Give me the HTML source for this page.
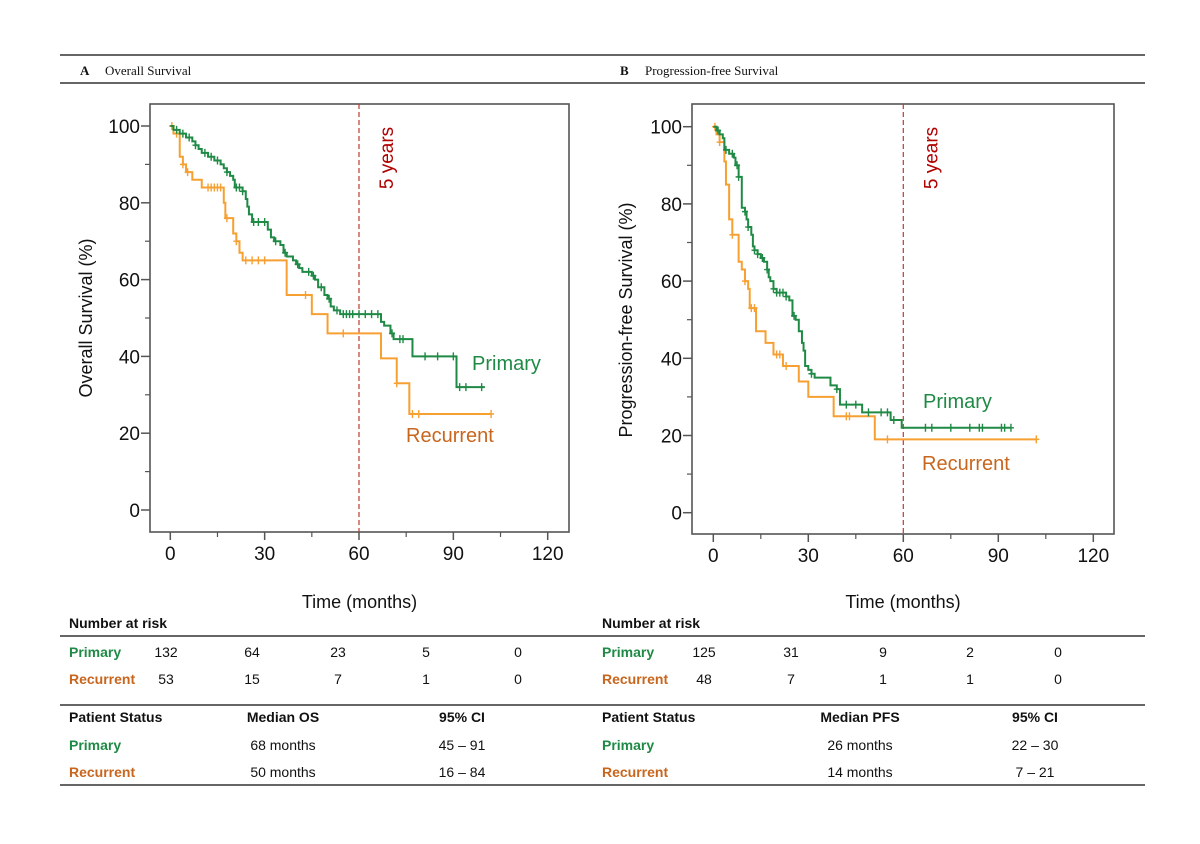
<!DOCTYPE html>
<html><head><meta charset="utf-8"><style>
html,body{margin:0;padding:0;background:#fff;}
svg{display:block;}
.tk{font-family:"Liberation Sans",Arial,sans-serif;font-size:19px;fill:#111;}
.ttl{font-family:"Liberation Sans",Arial,sans-serif;font-size:18px;fill:#111;}
.tb{font-family:"Liberation Sans",Arial,sans-serif;font-size:14px;fill:#111;}
.bold{font-weight:bold;}
.hd{font-family:"Liberation Serif","Times New Roman",serif;font-size:13px;fill:#111;}
</style></head><body>
<svg id="fig" width="1200" height="844" viewBox="0 0 1200 844" xmlns="http://www.w3.org/2000/svg">
<line x1="60" y1="55" x2="1145" y2="55" stroke="#666" stroke-width="2"/>
<line x1="60" y1="83" x2="1145" y2="83" stroke="#666" stroke-width="2"/>
<text x="80" y="75" class="hd bold">A</text>
<text x="105" y="75" class="hd">Overall Survival</text>
<text x="620" y="75" class="hd bold">B</text>
<text x="645" y="75" class="hd">Progression-free Survival</text>
<g id="chartA"></g>
<g id="chartB"></g>
<g id="tables"></g>
</svg>
<script>
// ---- data ----
const xTicks = [0, 30, 60, 90, 120];
const yTicks = [0, 20, 40, 60, 80, 100];
// Overall survival (time months, survival %)
const osPrimaryT = [0,1,3,5,7,8,9,10,12,14,16,17,18,19,20,20.5,23,24,24.5,25,26,31,32,33,35,36,37,39,40,41,42,45,46,47,49,50,51,52,54,67,68,70,71,77,91,100];
const osPrimaryS = [100,99,98,97,96,95,94,93,92,91,90,89,88,87,86,84,83,81,79,77,75,73,71,70,69,67,66,65,64,63,62,61,60,58,56,55,53,52,51,49,48,46,44.5,40,32,32];
const osPrimaryCens = [2,4,6,8,11,13,15,18,21,22,23,26.5,28,30,33.5,36.5,40.5,44,45.5,48,50.5,53,55,56,57,58,60,62,64,66,70.5,73,74,81,85,90,92,94,99];
const osRecT = [0,1,3,4,5,7,10,17,17.5,20,21,22,23,37,45,50,67,72,76,102];
const osRecS = [100,98,92,90,88,86,84,80,76,72,70,67,65,56,51,46,39.5,33,25,25];
const osRecCens = [0.5,2,4,5.5,12,13,14,15,16,18,21,24,26,28,30,43,55,72,77,79,102];
// Progression-free survival
const pfsPrimaryT = [0,1,2,3,3.5,5,6.5,7,8,9,10,10.5,11,12,12.5,13,14,15,16,17,17.5,18,19,20,23,24,25,26,27,28,28.5,29,30,31,32,37,39,40,47,56,59.5,94];
const pfsPrimaryS = [100,99,98,97,94,93,92,90,87,79,78,76,74,72,69,68,67,66,65,63,61,60,58,57,56,55,51,50,47,44,42,38,37,36,35,33,32,28,26,24,22,22];
const pfsPrimaryCens = [1.5,4,6,7.5,8,10,11,13,14,15.5,17,19,20,21,22,23,25.5,31,39,42,45,49,53,55,57,67,69,75,81,84,85,91,92,94];
const pfsRecT = [0,1,2,3.5,4,5,6,8,9,10,11,11.5,13.5,16.5,19,22,27,30,38,51,102];
const pfsRecS = [100,98,96,91,85,76,72,65,63,60,58,53,47,44,41,38,34,30,25,19,19];
const pfsRecCens = [0.5,2,6,10,12,13,20,21,23,42,43,55,102];
const riskA = {primary:[132,64,23,5,0], recurrent:[53,15,7,1,0]};
const riskB = {primary:[125,31,9,2,0], recurrent:[48,7,1,1,0]};

const NS = "http://www.w3.org/2000/svg";
const GREEN = "#1f8a45", ORANGE = "#f7a032", RECTXT = "#c8661e";
function mk(parent, tag, attrs, text){
  const e = document.createElementNS(NS, tag);
  for (const k in attrs) e.setAttribute(k, attrs[k]);
  if (text !== undefined) e.textContent = text;
  parent.appendChild(e); return e;
}
function drawChart(g, cfg){
  const sx = t => cfg.x0 + (t/120)*(cfg.x120-cfg.x0);
  const sy = s => cfg.y0 - (s/100)*(cfg.y0-cfg.y100);
  // frame
  const fr = mk(g,'rect',{x:cfg.L,y:cfg.T,width:cfg.R-cfg.L,height:cfg.B-cfg.T,fill:'none',stroke:'#555','stroke-width':1.6});
   
  yTicks.forEach(v=>{
    const l = mk(g,'line',{x1:cfg.L-9,x2:cfg.L,y1:sy(v),y2:sy(v),stroke:'#555','stroke-width':1.5});
     
    if (v<100){ const m = mk(g,'line',{x1:cfg.L-5,x2:cfg.L,y1:sy(v+10),y2:sy(v+10),stroke:'#555','stroke-width':1.2});
        }
    const t = mk(g,'text',{x:cfg.L-10,y:sy(v)+7,'text-anchor':'end',class:'tk'},String(v));
     
  });
  xTicks.forEach(v=>{
    const l = mk(g,'line',{x1:sx(v),x2:sx(v),y1:cfg.B,y2:cfg.B+8,stroke:'#555','stroke-width':1.5});
     
    if (v<120){ const m = mk(g,'line',{x1:sx(v+15),x2:sx(v+15),y1:cfg.B,y2:cfg.B+5,stroke:'#555','stroke-width':1.2});
        }
    const t = mk(g,'text',{x:sx(v),y:cfg.B+28,'text-anchor':'middle',class:'tk'},String(v));
     
  });
  const yt = mk(g,'text',{x:0,y:0,'text-anchor':'middle',class:'ttl',transform:`translate(${cfg.ytx},${cfg.yty}) rotate(-90)`},cfg.ytitle);
   
  const xt = mk(g,'text',{x:(cfg.L+cfg.R)/2,y:608,'text-anchor':'middle',class:'ttl'},'Time (months)');
   
  // 5-year line
  const vl = mk(g,'line',{x1:sx(60),x2:sx(60),y1:cfg.T,y2:cfg.B,stroke:'#c0392b','stroke-width':1.2,'stroke-dasharray':'5,3'});
   
  const fy = mk(g,'text',{x:0,y:0,'text-anchor':'middle',class:'ttl',fill:'#b00000',style:'fill:#b00000;font-size:19px',transform:`translate(${sx(60)+34},158) rotate(-90)`},'5 years');
   
  // series
  function series(T,S,C,color,name){
    let d = `M${sx(T[0])},${sy(S[0])}`;
    for (let i=1;i<T.length;i++){ d += `H${sx(T[i])}V${sy(S[i])}`; }
    const p = mk(g,'path',{d:d,fill:'none',stroke:color,'stroke-width':2});
     
    C.forEach(c=>{
      let s = S[0]; for (let i=0;i<T.length;i++) if (T[i]<=c) s=S[i];
      const m = mk(g,'path',{d:`M${sx(c)},${sy(s)-4}V${sy(s)+4}M${sx(c)-3},${sy(s)}H${sx(c)+3}`,stroke:color,'stroke-width':1.4});
       
    });
  }
  series(cfg.rT,cfg.rS,cfg.rC,ORANGE,'recurrent');
  series(cfg.pT,cfg.pS,cfg.pC,GREEN,'primary');
  const pl = mk(g,'text',{x:cfg.plx,y:cfg.ply,class:'ttl',style:`fill:${GREEN};font-size:20px`},'Primary');
   
  const rl = mk(g,'text',{x:cfg.rlx,y:cfg.rly,class:'ttl',style:`fill:${RECTXT};font-size:20px`},'Recurrent');
   
}
drawChart(document.getElementById('chartA'),{L:150,R:569,T:104,B:532,x0:170.3,x120:547.7,y0:510,y100:126,
  ytitle:'Overall Survival (%)',ytx:92,yty:318,pT:osPrimaryT,pS:osPrimaryS,pC:osPrimaryCens,rT:osRecT,rS:osRecS,rC:osRecCens,
  plx:472,ply:370,rlx:406,rly:442});
drawChart(document.getElementById('chartB'),{L:692,R:1114,T:104,B:534,x0:713.3,x120:1093.3,y0:512.7,y100:126.7,
  ytitle:'Progression-free Survival (%)',ytx:632,yty:320,pT:pfsPrimaryT,pS:pfsPrimaryS,pC:pfsPrimaryCens,rT:pfsRecT,rS:pfsRecS,rC:pfsRecCens,
  plx:923,ply:408,rlx:922,rly:470});

// tables
const tg = document.getElementById('tables');
function txt(x,y,s,cls,anchor,fill,name){
  const t = mk(tg,'text',{x:x,y:y,class:cls,'text-anchor':anchor||'start'},s);
  if (fill) t.setAttribute('style','fill:'+fill);
    return t;
}
[636,705,785].forEach(y=>{
  const l = mk(tg,'line',{x1:60,x2:1145,y1:y,y2:y,stroke:'#666','stroke-width':2});
   
});
function riskTable(x0, cols, risk, rowY, med){
  txt(x0,628,'Number at risk','tb bold','start',null,'risk-table-title');
  txt(x0,rowY[0],'Primary','tb bold','start',GREEN,'risk-primary-label');
  txt(x0,rowY[1],'Recurrent','tb bold','start',RECTXT,'risk-recurrent-label');
  risk.primary.forEach((v,i)=>txt(cols[i],rowY[0],String(v),'tb','middle',null,'risk-primary-value'));
  risk.recurrent.forEach((v,i)=>txt(cols[i],rowY[1],String(v),'tb','middle',null,'risk-recurrent-value'));
  txt(x0,722,'Patient Status','tb bold','start',null,'patient-status-header');
  txt(med.mx,722,med.title,'tb bold','middle',null,'median-header');
  txt(med.cx,722,'95% CI','tb bold','middle',null,'ci-header');
  txt(x0,750,'Primary','tb bold','start',GREEN,'median-primary-label');
  txt(x0,777,'Recurrent','tb bold','start',RECTXT,'median-recurrent-label');
  txt(med.mx,750,med.m[0],'tb','middle',null,'median-primary-value');
  txt(med.mx,777,med.m[1],'tb','middle',null,'median-recurrent-value');
  txt(med.cx,750,med.c[0],'tb','middle',null,'ci-primary-value');
  txt(med.cx,777,med.c[1],'tb','middle',null,'ci-recurrent-value');
}
riskTable(69,[166,252,338,426,518],riskA,[657,684],{title:'Median OS',mx:283,cx:462,m:['68 months','50 months'],c:['45 – 91','16 – 84']});
riskTable(602,[704,791,883,970,1058],riskB,[657,684],{title:'Median PFS',mx:860,cx:1035,m:['26 months','14 months'],c:['22 – 30','7 – 21']});
</script>
</body></html>
